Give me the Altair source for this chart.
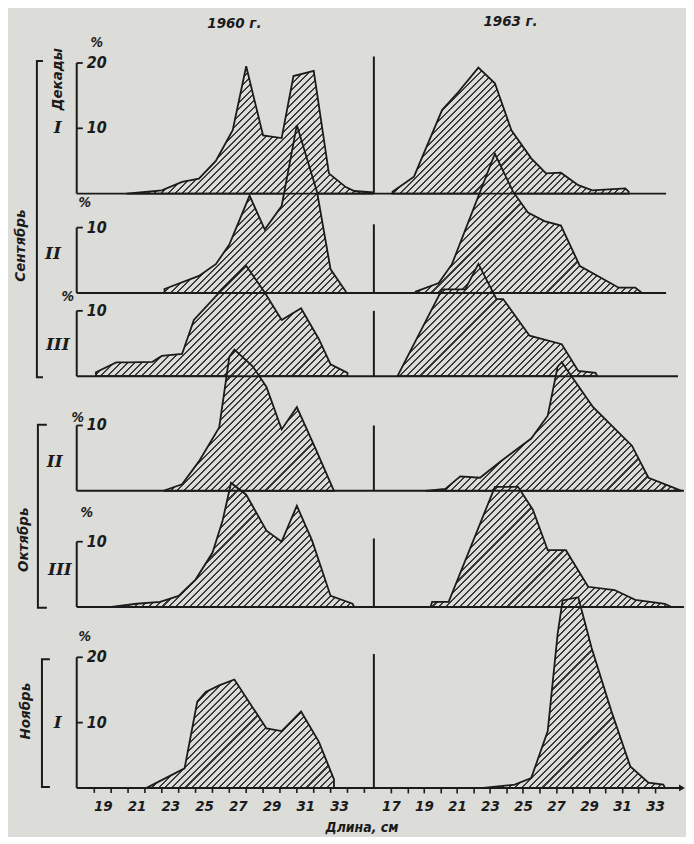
import math
import altair as alt
import pandas as pd

# ---------------- data: body length (cm) and share of catch (%) ----------------
# 1960
sep1_60_len = [20.4, 22.5, 23.7, 24.7, 25.7, 26.7, 27.5, 28.5, 29.6, 30.3, 31.5, 32.4, 33.4, 33.9, 35.0]
sep1_60_pct = [0.0, 0.5, 1.8, 2.3, 5.0, 9.7, 19.5, 8.9, 8.5, 18.0, 18.8, 3.1, 1.0, 0.4, 0.2]
sep2_60_len = [22.66, 24.7, 25.7, 26.5, 27.7, 28.6, 29.6, 30.5, 31.7, 32.5, 33.4]
sep2_60_pct = [0.6, 2.6, 4.4, 7.4, 14.9, 9.7, 13.3, 25.7, 15.4, 3.6, 0.2]
sep3_60_len = [18.6, 19.8, 20.6, 21.95, 22.5, 23.7, 24.4, 25.9, 27.5, 28.6, 29.6, 30.75, 31.8, 32.5, 33.5]
sep3_60_pct = [0.6, 2.1, 2.1, 2.2, 3.1, 3.4, 8.6, 12.8, 16.9, 12.8, 8.6, 10.4, 5.7, 1.8, 0.5]
oct2_60_len = [22.6, 23.7, 24.7, 25.9, 26.5, 26.8, 27.9, 28.7, 29.6, 30.5, 31.6, 32.7]
oct2_60_pct = [0.0, 1.0, 4.5, 9.7, 20.5, 21.6, 19.0, 15.9, 9.4, 12.8, 6.5, 0.0]
oct3_60_len = [19.4, 21.0, 22.4, 23.5, 24.5, 25.5, 26.1, 26.6, 27.5, 28.7, 29.6, 30.5, 31.4, 32.5, 33.8, 33.9]
oct3_60_pct = [0.0, 0.5, 0.8, 1.7, 4.2, 8.3, 13.2, 19.0, 17.2, 11.7, 10.0, 15.5, 10.2, 1.7, 0.5, 0.0]
nov1_60_len = [21.6, 23.85, 24.6, 25.1, 25.9, 26.8, 28.7, 29.6, 30.75, 31.8, 32.7]
nov1_60_pct = [0.0, 3.0, 13.2, 14.7, 15.7, 16.6, 9.1, 8.7, 11.7, 7.1, 1.3]
# 1963
sep1_63_len = [17.1, 18.4, 20.1, 21.1, 22.3, 23.3, 24.3, 25.5, 26.4, 27.3, 28.35, 29.2, 31.2, 31.4]
sep1_63_pct = [0.3, 2.6, 12.8, 15.6, 19.3, 16.9, 9.7, 5.4, 3.1, 3.2, 1.3, 0.5, 0.8, 0.3]
sep2_63_len = [18.5, 19.9, 20.7, 23.3, 24.4, 25.3, 26.3, 27.3, 28.45, 30.8, 31.8, 32.2]
sep2_63_pct = [0.2, 1.5, 4.4, 21.3, 15.5, 12.3, 11.0, 10.3, 4.1, 0.8, 0.8, 0.0]
sep3_63_len = [17.4, 20.1, 21.5, 22.3, 23.4, 23.8, 25.4, 27.35, 28.35, 29.4, 29.5]
sep3_63_pct = [0.0, 13.3, 13.3, 17.2, 11.8, 11.8, 6.2, 4.9, 0.8, 0.5, 0.0]
oct2_63_len = [19.1, 20.3, 21.2, 22.4, 23.7, 25.5, 26.5, 27.1, 27.35, 29.25, 31.6, 32.6, 34.0, 34.6]
oct2_63_pct = [0.0, 0.3, 2.2, 2.0, 4.6, 8.0, 11.5, 19.0, 19.7, 12.8, 6.9, 2.0, 0.6, 0.0]
oct3_63_len = [19.4, 19.5, 20.5, 23.3, 24.7, 25.6, 26.5, 27.6, 28.95, 30.55, 31.8, 33.6, 34.0]
oct3_63_pct = [0.0, 0.8, 0.8, 18.4, 18.4, 14.9, 8.7, 8.7, 3.1, 2.6, 1.1, 0.5, 0.0]
nov1_63_len = [22.6, 24.5, 25.5, 26.5, 27.1, 27.4, 28.35, 29.15, 30.35, 31.5, 32.6, 33.5, 33.6]
nov1_63_pct = [0.0, 0.5, 1.5, 8.7, 23.6, 28.7, 29.2, 21.5, 11.8, 3.3, 0.8, 0.5, 0.0]

row_decade = ["I", "II", "III", "II", "III", "I"]
row_axis_top = [20, 10, 10, 10, 10, 20]
axis_tick_values = [[10, 20], [10], [10], [10], [10], [10, 20]]
x_labels_60 = [19, 21, 23, 25, 27, 29, 31, 33]
x_ticks_60 = [18.5 + i for i in range(17)]
x_ticks_63 = list(range(17, 34))
month_labels = ["Сентябрь", "Октябрь", "Ноябрь"]

# ---------------- layout / style ----------------
W, H = 678, 781
PX_CM_60, PX_CM_63, PX_PCT = 16.93, 16.56, 6.55
X_DOM_60 = [19 - (103 - 8) / PX_CM_60, 19 + (8 + W - 103) / PX_CM_60]
X_DOM_63 = [17 - (392 - 8) / PX_CM_63, 17 + (8 + W - 392) / PX_CM_63]
Y_DOM = [0, H / PX_PCT]
ROW_BASE = [91.0, 75.8, 63.05, 45.5, 27.7, 0.0]
AXIS_60, END_60 = 17.46, 35.07
AXIS_63 = 15.97
END_63 = [33.67, 33.67, 34.39, 34.75, 34.75, 34.63]
LINE_63_TOP = [21, 10.5, 10, 10, 10.5, 20.5]

PAPER = "#dcdcd9"
INK = "#1b1b1b"
HATCH_INK = "#3a3a3a"
HATCH_STEP = 4.8
HATCH_DARK = 0.3
FONT = "DejaVu Sans Condensed, Liberation Sans Narrow, Arial Narrow, DejaVu Sans, sans-serif"
SERIF = "DejaVu Serif, Liberation Serif, serif"

SC60 = alt.Scale(domain=X_DOM_60, nice=False, zero=False)
SC63 = alt.Scale(domain=X_DOM_63, nice=False, zero=False)
SCY = alt.Scale(domain=Y_DOM, nice=False, zero=False)

AX60 = alt.Axis(values=x_labels_60, ticks=False, domain=False, grid=False, title=None,
                orient="bottom", format="d", labelFont=FONT, labelFontSize=15,
                labelFontStyle="italic", labelFontWeight="bold", labelColor=INK,
                labelPadding=11, labelFlush=False, labelOverlap=False)
AX63 = alt.Axis(values=x_ticks_63, ticks=True, tickSize=5, tickWidth=1.6, tickColor=INK,
                domain=False, grid=False, title=None, orient="bottom", format="d",
                labelExpr="datum.value % 2 == 1 ? datum.label : ''",
                labelFont=FONT, labelFontSize=15, labelFontStyle="italic",
                labelFontWeight="bold", labelColor=INK, labelPadding=6,
                labelFlush=False, labelOverlap=False)


def X60(f="x"):
    return alt.X(f"{f}:Q", scale=SC60, axis=AX60)


def X63(f="x"):
    return alt.X(f"{f}:Q", scale=SC63, axis=AX63)


def Y(f="y"):
    return alt.Y(f"{f}:Q", scale=SCY, axis=None)


def hatch(xs, ys, pxcm):
    w = (max(xs) - min(xs)) * pxcm
    h = max(ys) * PX_PCT
    n = max(1, round((w + h) / (HATCH_STEP * math.sqrt(2))))
    a = w * (w + h) / (w * w + h * h)
    b = h * (w + h) / (w * w + h * h)
    stops = []
    for k in range(n):
        o0, o1, o2 = k / n, (k + 1 - HATCH_DARK) / n, (k + 1) / n
        stops += [{"offset": round(o0, 5), "color": PAPER},
                  {"offset": round(o1, 5), "color": PAPER},
                  {"offset": round(o1, 5), "color": HATCH_INK},
                  {"offset": round(min(o2, 1.0), 5), "color": HATCH_INK}]
    return {"gradient": "linear", "x1": 0, "y1": 0, "x2": a, "y2": b, "stops": stops}


def area_layer(xs, ys, base, pxcm, xenc):
    df = pd.DataFrame({"x": xs, "top": [base + v for v in ys], "base": [base] * len(xs)})
    return alt.Chart(df).mark_area(fill=hatch(xs, ys, pxcm), stroke=INK, strokeWidth=1.8,
                                   interpolate="linear").encode(
        x=xenc(), y=Y("top"), y2=alt.Y2("base:Q"))


def text_layer(df, xenc, size, font=FONT, style="italic", weight="bold", align="center",
               baseline="middle", angle=0):
    return alt.Chart(df).mark_text(font=font, fontSize=size, fontStyle=style, fontWeight=weight,
                                   align=align, baseline=baseline, angle=angle, color=INK).encode(
        x=xenc(), y=Y(), text="text:N")


series_60 = [(sep1_60_len, sep1_60_pct), (sep2_60_len, sep2_60_pct), (sep3_60_len, sep3_60_pct),
             (oct2_60_len, oct2_60_pct), (oct3_60_len, oct3_60_pct), (nov1_60_len, nov1_60_pct)]
series_63 = [(sep1_63_len, sep1_63_pct), (sep2_63_len, sep2_63_pct), (sep3_63_len, sep3_63_pct),
             (oct2_63_len, oct2_63_pct), (oct3_63_len, oct3_63_pct), (nov1_63_len, nov1_63_pct)]

# ---------------- 1960 column ----------------
layers60 = [area_layer(xs, ys, ROW_BASE[i], PX_CM_60, X60) for i, (xs, ys) in enumerate(series_60)]

base60 = pd.DataFrame({"x": [AXIS_60] * 6, "x2": [END_60] * 6, "y": ROW_BASE})
layers60.append(alt.Chart(base60).mark_rule(color=INK, strokeWidth=2).encode(
    x=X60(), x2=alt.X2("x2:Q"), y=Y()))

yax60 = pd.DataFrame({"x": [AXIS_60] * 6, "y": ROW_BASE,
                      "y2": [b + t for b, t in zip(ROW_BASE, row_axis_top)]})
layers60.append(alt.Chart(yax60).mark_rule(color=INK, strokeWidth=2).encode(
    x=X60(), y=Y(), y2=alt.Y2("y2:Q")))

tick_rows = [(AXIS_60, AXIS_60 + 0.36, ROW_BASE[i] + v, str(v))
             for i, vals in enumerate(axis_tick_values) for v in vals]
ytk60 = pd.DataFrame(tick_rows, columns=["x", "x2", "y", "text"])
layers60.append(alt.Chart(ytk60).mark_rule(color=INK, strokeWidth=1.8).encode(
    x=X60(), x2=alt.X2("x2:Q"), y=Y()))
ylab60 = pd.DataFrame({"x": [18.05] * len(tick_rows), "y": [r[2] for r in tick_rows],
                       "text": [r[3] for r in tick_rows]})
layers60.append(text_layer(ylab60, X60, 16, align="left"))

pct_pos = [(18.65, 23.05), (17.94, 13.7), (16.93, 12.06), (17.52, 11.1), (18.05, 14.4), (17.94, 23.05)]
pct60 = pd.DataFrame({"x": [p[0] for p in pct_pos],
                      "y": [ROW_BASE[i] + p[1] for i, p in enumerate(pct_pos)],
                      "text": ["%"] * 6})
layers60.append(text_layer(pct60, X60, 14))

roman_pos = [(16.34, 10.0), (16.05, 6.0), (16.34, 4.7), (16.16, 4.4), (16.46, 5.6), (16.34, 10.0)]
rom60 = pd.DataFrame({"x": [p[0] for p in roman_pos],
                      "y": [ROW_BASE[i] + p[1] for i, p in enumerate(roman_pos)],
                      "text": row_decade})
layers60.append(text_layer(rom60, X60, 17, font=SERIF))

rot60 = pd.DataFrame({"x": [16.28, 14.10, 14.27, 14.39], "y": [108.5, 83.05, 38.0, 11.76],
                      "text": ["Декады"] + month_labels})
layers60.append(text_layer(rot60, X60, 15, angle=270))

brackets = []
for g, (bx, ytop, ybot, tx) in enumerate([(15.10, 111.3, 62.9, 15.46),
                                           (15.16, 55.6, 27.6, 15.69),
                                           (15.40, 19.7, 0.15, 15.87)]):
    brackets += [(g, 0, tx, ytop), (g, 1, bx, ytop), (g, 2, bx, ybot), (g, 3, tx, ybot)]
br60 = pd.DataFrame(brackets, columns=["g", "o", "x", "y"])
layers60.append(alt.Chart(br60).mark_line(color=INK, strokeWidth=2).encode(
    x=X60(), y=Y(), detail="g:N", order="o:Q"))

tk60 = pd.DataFrame({"x": x_ticks_60, "y": [-0.76] * len(x_ticks_60), "y2": [0.0] * len(x_ticks_60)})
layers60.append(alt.Chart(tk60).mark_rule(color=INK, strokeWidth=1.6).encode(
    x=X60(), y=Y(), y2=alt.Y2("y2:Q")))

tt60 = pd.DataFrame({"x": [26.8], "y": [117.1], "text": ["1960 г."]})
layers60.append(text_layer(tt60, X60, 15))
xt60 = pd.DataFrame({"x": [34.36], "y": [-6.15], "text": ["Длина, см"]})
layers60.append(text_layer(xt60, X60, 14))

# ---------------- 1963 column ----------------
layers63 = [area_layer(xs, ys, ROW_BASE[i], PX_CM_63, X63) for i, (xs, ys) in enumerate(series_63)]

base63 = pd.DataFrame({"x": [AXIS_63] * 6, "x2": END_63, "y": ROW_BASE})
layers63.append(alt.Chart(base63).mark_rule(color=INK, strokeWidth=2).encode(
    x=X63(), x2=alt.X2("x2:Q"), y=Y()))

yax63 = pd.DataFrame({"x": [AXIS_63] * 6, "y": ROW_BASE,
                      "y2": [b + t for b, t in zip(ROW_BASE, LINE_63_TOP)]})
layers63.append(alt.Chart(yax63).mark_rule(color=INK, strokeWidth=2).encode(
    x=X63(), y=Y(), y2=alt.Y2("y2:Q")))

arrow63 = pd.DataFrame({"x": [END_63[-1]], "y": [0.0]})
layers63.append(alt.Chart(arrow63).mark_point(shape="triangle-right", filled=True, size=45,
                                              color=INK, opacity=1).encode(x=X63(), y=Y()))

tt63 = pd.DataFrame({"x": [24.25], "y": [117.4], "text": ["1963 г."]})
layers63.append(text_layer(tt63, X63, 15))

chart = alt.layer(alt.layer(*layers60), alt.layer(*layers63)).resolve_scale(
    x="independent").properties(width=W, height=H, padding=0).configure(
    background=PAPER).configure_view(stroke=None)

chart.save("out.html", embed_options={"renderer": "svg", "actions": False})
